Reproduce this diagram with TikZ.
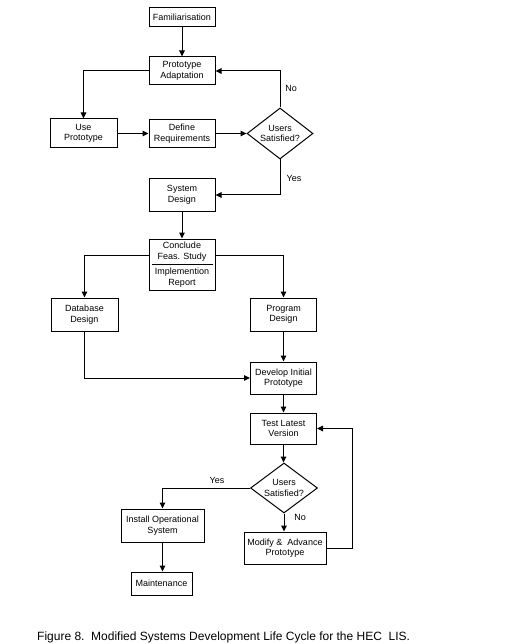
\documentclass[tikz,border=0pt]{standalone}
\usepackage{fontspec}
\setmainfont{Liberation Sans}
\usetikzlibrary{shapes.geometric,arrows.meta}
\begin{document}
\begin{tikzpicture}[x=1pt,y=-1pt,
  txt/.style={font=\fontsize{9}{10.5}\selectfont},
  box/.style={draw, line width=1pt, inner sep=1pt, align=center, txt},
  dec/.style={draw, diamond, line width=1pt, inner sep=0pt},
  arr/.style={line width=1pt, -{Triangle[length=6pt,width=5.5pt]}}]
\useasboundingbox (0,0) rectangle (507,644);

% nodes
\node[box, minimum width=66pt, minimum height=19pt] (fam) at (182,17.5) {Familiarisation};
\node[box, minimum width=66pt, minimum height=28pt] (pa) at (182,71) {Prototype\\Adaptation};
\node[box, minimum width=67pt, minimum height=29pt] (use) at (83.5,133.5) {Use\\Prototype};
\node[box, minimum width=66pt, minimum height=28pt] (def) at (182,133.5) {Define\\Requirements};
\node[dec, minimum width=66pt, minimum height=51pt,
      label={[txt, align=center]center:Users\\Satisfied?}] (dia1) at (280,133.5) {};
\node[box, minimum width=66pt, minimum height=32pt] (sys) at (182,195) {System\\Design};
\node[box, minimum width=66pt, minimum height=51pt] (conc) at (182,264.5) {};
\node[txt, align=center, inner sep=0pt] (conc1) at (182,251.5) {Conclude\\Feas. Study};
\node[txt, align=center, inner sep=0pt] (conc2) at (182,277.5) {Implemention\\Report};
\node[box, minimum width=67pt, minimum height=33pt] (db) at (84.5,314.5) {Database\\Design};
\node[box, minimum width=66pt, minimum height=33pt] (prog) at (283.5,314.5) {Program\\Design};
\node[box, minimum width=66pt, minimum height=32pt] (dev) at (283.5,378) {Develop Initial\\Prototype};
\node[box, minimum width=66pt, minimum height=31pt] (test) at (283.5,428.5) {Test Latest\\Version};
\node[dec, minimum width=67pt, minimum height=50pt,
      label={[txt, align=center]center:Users\\Satisfied?}] (dia2) at (284,488) {};
\node[box, minimum width=83pt, minimum height=33pt] (inst) at (162.5,525.5) {Install Operational\\System};
\node[box, minimum width=82pt, minimum height=32pt] (mod) at (285,548) {Modify \&\ \ Advance\\Prototype};
\node[box, minimum width=61pt, minimum height=23pt] (maint) at (161.5,583.5) {Maintenance};

% divider in the split box
\draw[line width=1pt] ([xshift=3pt]conc.west) -- ([xshift=-3pt]conc.east);

% connectors
\draw[arr] (fam) -- (pa);
\draw[arr] (dia1.north) |- (pa.east);
\draw[arr] (pa.west) -| (use.north);
\draw[arr] (use) -- (def);
\draw[arr] (def) -- (dia1.west);
\draw[arr] (dia1.south) |- (sys.east);
\draw[arr] (sys) -- (conc);
\draw[arr] ([yshift=9pt]conc.west) -| (db.north);
\draw[arr] ([yshift=9pt]conc.east) -| (prog.north);
\draw[arr] (prog) -- (dev);
\draw[arr] (db.south) |- (dev.west);
\draw[arr] (dev) -- (test);
\draw[arr] (test.south) -- (test.south |- dia2.north);
\draw[arr] (dia2.west) -| (inst.north);
\draw[arr] (dia2.south) -- (dia2.south |- mod.north);
\draw[arr] (mod.east) -- ++(26,0) |- (test.east);
\draw[arr] (inst.south) -- (inst.south |- maint.north);

% labels
\node[txt] (lno1) at (291,88) {No};
\node[txt] (lyes1) at (294,178) {Yes};
\node[txt] (lyes2) at (217,480) {Yes};
\node[txt] (lno2) at (300,517) {No};

% caption
\node[anchor=base west, inner sep=0pt, font=\fontsize{12}{14}\selectfont] (cap) at (37,640)
  {Figure 8.\ \ Modified Systems Development Life Cycle for the HEC\ \ LIS.};
\end{tikzpicture}
\end{document}
